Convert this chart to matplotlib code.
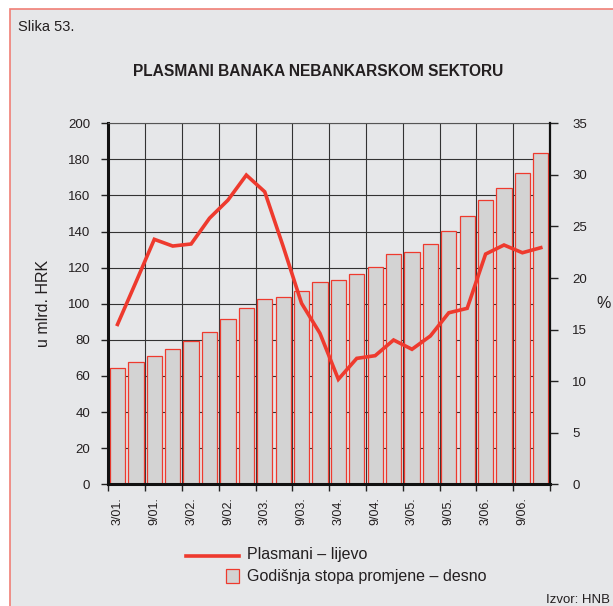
import matplotlib
matplotlib.use("Agg")
import matplotlib.pyplot as plt
from matplotlib.lines import Line2D
from matplotlib.patches import Rectangle
import numpy as np

plt.rcParams['font.family'] = ['Liberation Sans', 'DejaVu Sans']

# Quarterly observations, March 2001 - December 2006
tick_labels = ["3/01.", "9/01.", "3/02.", "9/02.", "3/03.", "9/03.",
               "3/04.", "9/04.", "3/05.", "9/05.", "3/06.", "9/06."]

# Bank placements to the non-banking sector, bn HRK (left axis)
placements = [64.3, 67.9, 71.2, 75.0, 79.6, 84.4, 91.6, 97.5, 102.4, 103.6,
              106.9, 111.9, 113.0, 116.7, 120.2, 127.4, 128.5, 133.3, 140.5,
              148.8, 157.3, 164.3, 172.6, 183.4]

# Annual growth rate, % (right axis)
growth = [15.5, 19.6, 23.75, 23.1, 23.3, 25.8, 27.55, 29.98, 28.36, 23.07,
          17.55, 14.64, 10.18, 12.21, 12.47, 13.99, 13.09, 14.38, 16.63,
          17.06, 22.32, 23.2, 22.45, 22.94]

W, H = 613, 606
BG = "#e6e7e9"
RED = "#ee3a2e"
TXT = "#231f20"

fig = plt.figure(figsize=(W / 100, H / 100), dpi=100)
fig.patch.set_facecolor("white")

# panel background with red frame (open towards the right and bottom edges)
fig.add_artist(Rectangle((10 / W, -0.5), 2.0, 1.5 - 9 / H,
                         transform=fig.transFigure, facecolor=BG,
                         edgecolor="#f07f76", linewidth=1.2, zorder=0))


def fx(px):
    return px / W


def fy(py):
    return 1 - py / H


ax_left, ax_right = 108.3, 550.0
ax_top, ax_bot = 123.3, 484.3
ax = fig.add_axes([fx(ax_left), fy(ax_bot), fx(ax_right - ax_left),
                   (ax_bot - ax_top) / H])
ax.set_facecolor(BG)

n = len(placements)
x = np.arange(n) + 0.5
ax.bar(x, placements, width=0.83, facecolor="#d3d3d3", edgecolor=RED,
       linewidth=0.9, zorder=2)
ax.set_xlim(0, n)
ax.set_ylim(0, 200)
ax.set_yticks(np.arange(0, 201, 20))
ax.set_axisbelow(True)
ax.grid(True, which="major", color="#333333", linewidth=0.8)

# gridline ticks at half-year boundaries, labels at the first quarter of each pair
ax.set_xticks(np.arange(0, n + 1, 2))
ax.set_xticklabels([])
ax.set_xticks(np.arange(0, n, 2) + 0.5, minor=True)
ax.set_xticklabels(tick_labels, minor=True, rotation=90, fontsize=9,
                   color=TXT, va="top", ha="center")
ax.tick_params(axis="x", which="minor", length=0, pad=9.5)
ax.tick_params(axis="x", which="major", direction="out", length=5,
               width=1.0, color="#222222")
ax.tick_params(axis="y", direction="out", length=5, width=1.0,
               color="#222222", pad=8, labelsize=9.5, labelcolor=TXT)

for side in ["left", "bottom"]:
    ax.spines[side].set_color("#111111")
    ax.spines[side].set_linewidth(2.2)
ax.spines["right"].set_visible(False)
ax.spines["top"].set_color("#555555")
ax.spines["top"].set_linewidth(0.8)

ax.set_ylabel("u mlrd. HRK", fontsize=11.5, color=TXT, labelpad=12)

ax2 = ax.twinx()
ax2.plot(x, growth, color=RED, linewidth=2.6, solid_joinstyle="miter",
         zorder=5)
ax2.set_ylim(0, 35)
ax2.set_yticks(np.arange(0, 36, 5))
ax2.tick_params(axis="y", direction="out", length=6, width=1.0,
                color="#222222", pad=10, labelsize=9.5, labelcolor=TXT)
ax2.spines["right"].set_color("#111111")
ax2.spines["right"].set_linewidth(1.6)
for side in ["left", "bottom", "top"]:
    ax2.spines[side].set_visible(False)

fig.text(fx(604), fy(303), "%", fontsize=11.5, color=TXT,
         ha="center", va="center")

fig.text(fx(18), fy(27), "Slika 53.", fontsize=10.5, color=TXT,
         ha="left", va="center")
fig.text(fx(318), fy(72), "PLASMANI BANAKA NEBANKARSKOM SEKTORU",
         fontsize=11.2, fontweight="bold", color=TXT, ha="center",
         va="center")

# legend
fig.add_artist(Line2D([fx(186), fx(239)], [fy(555.7), fy(555.7)],
                      transform=fig.transFigure, color=RED, linewidth=2.6))
fig.text(fx(247), fy(555), "Plasmani \u2013 lijevo", fontsize=11.5,
         color=TXT, ha="left", va="center")
fig.add_artist(Rectangle((fx(226), fy(582.7)), fx(13.3), 13.3 / H,
                         transform=fig.transFigure, facecolor="#d3d3d3",
                         edgecolor=RED, linewidth=0.9))
fig.text(fx(247), fy(577), "Godi\u0161nja stopa promjene \u2013 desno",
         fontsize=11.5, color=TXT, ha="left", va="center")
fig.text(fx(610), fy(600), "Izvor: HNB", fontsize=9.5, color=TXT,
         ha="right", va="center")

fig.savefig("out.png", dpi=100, facecolor=fig.get_facecolor())
